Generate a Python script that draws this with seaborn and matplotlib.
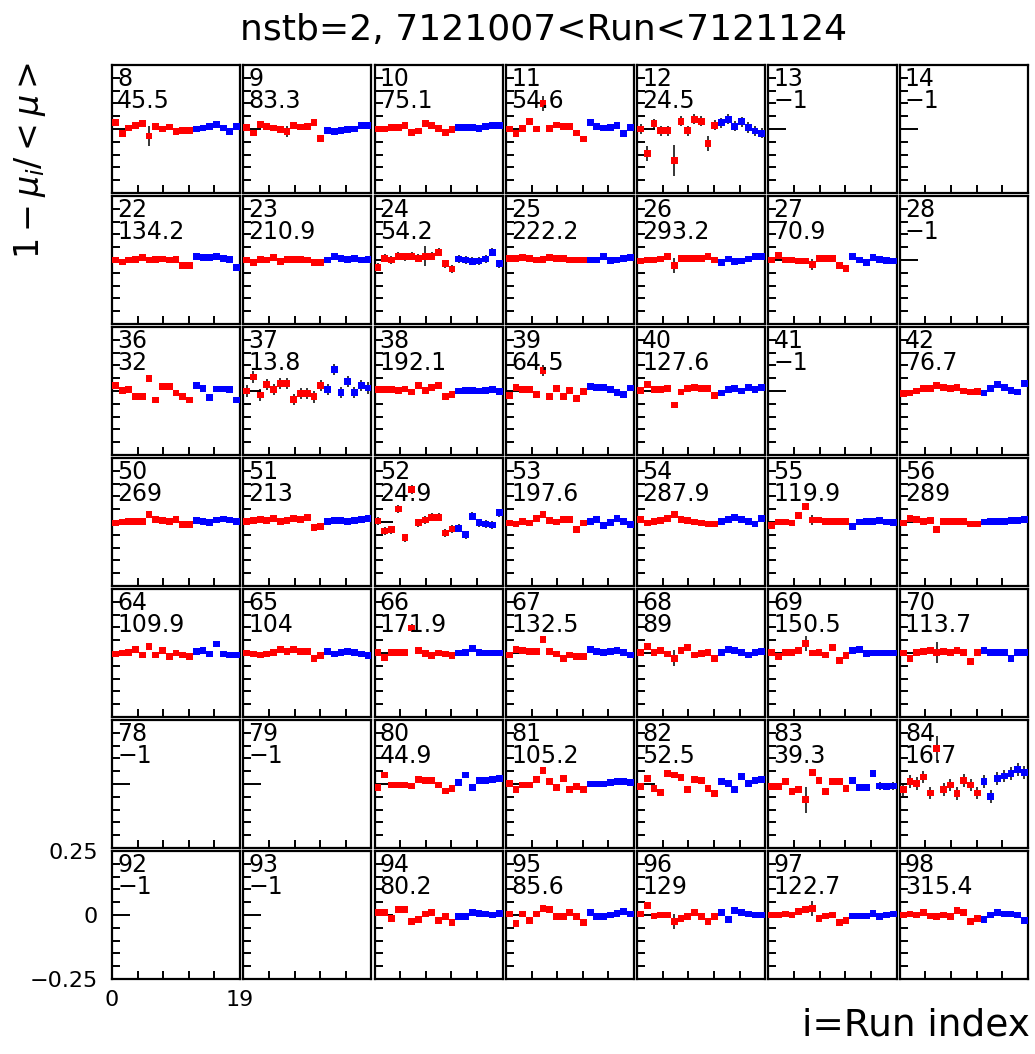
import numpy as np
import pandas as pd
import matplotlib
matplotlib.use("Agg")
import matplotlib.pyplot as plt
import seaborn as sns
from matplotlib.ticker import MultipleLocator

sns.set_style("white")
plt.rcParams['font.family'] = ['DejaVu Sans']
plt.rcParams['text.color'] = 'black'
plt.rcParams['xtick.color'] = 'black'
plt.rcParams['ytick.color'] = 'black'

# channel numbers, 7 per row
channels = [8, 9, 10, 11, 12, 13, 14,
            22, 23, 24, 25, 26, 27, 28,
            36, 37, 38, 39, 40, 41, 42,
            50, 51, 52, 53, 54, 55, 56,
            64, 65, 66, 67, 68, 69, 70,
            78, 79, 80, 81, 82, 83, 84,
            92, 93, 94, 95, 96, 97, 98]
panel_text = ["45.5", "83.3", "75.1", "54.6", "24.5", "-1", "-1",
              "134.2", "210.9", "54.2", "222.2", "293.2", "70.9", "-1",
              "32", "13.8", "192.1", "64.5", "127.6", "-1", "76.7",
              "269", "213", "24.9", "197.6", "287.9", "119.9", "289",
              "109.9", "104", "171.9", "132.5", "89", "150.5", "113.7",
              "-1", "-1", "44.9", "105.2", "52.5", "39.3", "16.7",
              "-1", "-1", "80.2", "85.6", "129", "122.7", "315.4"]

# 1 - mu_i/<mu> per run (first 12 runs red, last 7 blue)
v8 = [0.024, -0.019, 0.004, 0.015, 0.022, -0.027, 0.011, 0.0, 0.008, -0.010, -0.007, -0.005, 0.0, 0.004, 0.011, 0.018, 0.004, -0.009, 0.011]
v9 = [0.007, -0.016, 0.018, 0.011, 0.004, -0.003, -0.010, 0.014, 0.008, 0.011, 0.024, -0.036, -0.005, -0.010, -0.007, -0.003, 0.0, 0.014, 0.014]
v10 = [0.0, 0.0, 0.005, 0.005, 0.013, -0.014, -0.008, 0.022, 0.013, 0.003, -0.013, -0.001, 0.006, 0.006, 0.006, 0.002, 0.009, 0.013, 0.013]
v11 = [0.0, -0.019, 0.001, 0.030, 0.0, 0.100, 0.003, 0.016, 0.011, 0.011, -0.016, -0.039, 0.024, 0.011, 0.004, 0.007, 0.014, -0.019, 0.007]
v12 = [0.0, -0.095, 0.020, -0.007, -0.007, -0.124, 0.030, -0.007, 0.038, 0.030, -0.057, 0.015, 0.024, 0.038, 0.011, 0.028, 0.006, -0.008, -0.017]
v22 = [0.0, -0.008, 0.0, 0.002, 0.010, 0.0, 0.003, 0.004, 0.0, 0.003, -0.020, -0.020, 0.015, 0.010, 0.010, 0.015, 0.006, 0.002, -0.030]
v23 = [0.0, -0.010, 0.003, 0.0, 0.010, -0.005, 0.003, 0.003, 0.003, 0.0, -0.010, -0.010, 0.0, 0.015, 0.006, 0.003, 0.006, 0.0, 0.003]
v24 = [-0.028, 0.007, 0.0, 0.015, 0.013, 0.015, 0.007, 0.015, 0.015, 0.030, -0.015, -0.035, 0.004, 0.0, -0.005, -0.004, 0.004, 0.030, -0.015]
v25 = [0.005, 0.005, 0.010, 0.005, 0.0, 0.003, 0.010, 0.005, 0.005, 0.0, 0.0, 0.0, 0.0, 0.0, 0.015, -0.003, 0.0, 0.006, 0.010]
v26 = [-0.004, 0.0, 0.0, 0.004, 0.015, -0.022, 0.007, 0.007, 0.007, 0.007, 0.015, 0.0, -0.010, 0.004, -0.006, -0.004, 0.004, 0.013, 0.015]
v27 = [0.0, 0.018, 0.0, 0.0, -0.004, -0.004, -0.018, 0.006, 0.006, 0.006, -0.020, -0.032, 0.015, 0.0, -0.010, 0.010, 0.003, -0.002, -0.004]
v36 = [0.022, 0.003, 0.005, -0.020, -0.020, 0.050, -0.035, 0.018, 0.018, -0.008, -0.023, -0.035, 0.022, 0.010, -0.026, 0.008, 0.008, 0.006, -0.035]
v37 = [0.0, 0.055, -0.016, 0.024, 0.007, 0.030, 0.030, -0.034, -0.010, -0.010, -0.023, 0.021, 0.007, 0.085, -0.007, 0.038, -0.007, 0.021, 0.012]
v38 = [0.005, 0.005, 0.005, 0.002, 0.008, -0.004, 0.020, 0.002, 0.015, 0.020, -0.023, -0.013, 0.0, 0.002, 0.002, 0.0, 0.002, 0.006, -0.001]
v39 = [-0.017, 0.015, 0.007, 0.007, -0.014, 0.080, -0.020, 0.009, -0.023, 0.003, -0.030, -0.001, 0.018, 0.013, 0.013, 0.006, -0.006, -0.014, 0.012]
v40 = [0.003, 0.025, 0.006, 0.006, 0.009, -0.055, -0.004, 0.009, 0.013, 0.009, 0.009, -0.017, -0.008, 0.005, 0.009, 0.0, 0.013, 0.006, 0.013]
v42 = [-0.010, -0.008, 0.0, 0.009, 0.009, 0.022, 0.013, 0.009, 0.013, 0.0, -0.004, -0.001, -0.008, 0.009, 0.026, 0.013, 0.003, -0.004, 0.029]
v50 = [-0.004, 0.0, 0.002, 0.002, 0.002, 0.030, 0.010, 0.006, 0.002, 0.010, -0.010, -0.010, 0.006, 0.002, -0.001, 0.008, 0.012, 0.008, 0.002]
v51 = [0.002, 0.005, 0.009, 0.005, 0.013, 0.002, 0.006, 0.013, 0.009, 0.018, -0.023, -0.017, 0.002, 0.005, 0.005, 0.002, 0.005, 0.009, 0.015]
v52 = [0.004, -0.035, -0.030, 0.051, -0.062, 0.127, -0.003, 0.008, 0.019, 0.019, -0.043, -0.027, -0.025, -0.050, 0.022, -0.003, -0.008, -0.012, 0.036]
v53 = [-0.004, -0.008, 0.002, -0.004, 0.013, 0.030, 0.006, 0.0, 0.009, 0.009, -0.030, -0.004, 0.002, 0.009, -0.013, -0.001, 0.013, 0.002, -0.010]
v54 = [0.009, -0.004, 0.002, 0.006, 0.013, 0.030, 0.009, 0.005, 0.0, -0.004, -0.008, -0.008, 0.002, 0.009, 0.018, 0.009, 0.002, -0.008, 0.013]
v55 = [-0.013, 0.0, 0.0, -0.004, 0.025, 0.060, 0.008, 0.008, 0.002, 0.002, 0.002, 0.002, -0.017, 0.0, 0.002, 0.003, 0.006, 0.0, -0.002]
v56 = [-0.004, 0.013, 0.009, 0.002, 0.006, -0.030, 0.002, 0.002, 0.002, 0.002, -0.008, -0.008, 0.0, 0.002, 0.002, 0.002, 0.005, 0.005, 0.009]
v64 = [-0.004, 0.0, 0.002, 0.013, -0.008, 0.025, -0.008, 0.009, -0.013, 0.0, -0.008, -0.013, 0.006, 0.009, -0.004, 0.035, -0.004, -0.008, -0.008]
v65 = [0.0, -0.004, -0.008, -0.004, 0.002, 0.013, 0.006, 0.015, 0.006, 0.006, -0.023, -0.010, 0.006, -0.004, 0.002, 0.006, 0.002, -0.004, -0.010]
v66 = [0.002, -0.017, 0.002, 0.002, 0.002, 0.098, 0.009, -0.001, -0.010, 0.0, -0.004, -0.010, 0.0, 0.002, 0.018, 0.002, 0.0, 0.0, 0.0]
v67 = [-0.008, 0.013, 0.009, 0.006, 0.006, 0.054, 0.006, -0.004, -0.020, -0.008, -0.013, -0.013, 0.015, 0.006, 0.002, 0.006, 0.009, 0.002, -0.008]
v68 = [0.002, 0.025, 0.002, 0.009, -0.004, -0.020, 0.009, 0.022, -0.008, -0.001, 0.002, -0.020, 0.002, 0.013, 0.009, 0.002, -0.008, 0.002, 0.006]
v69 = [0.002, -0.013, 0.002, 0.002, 0.009, 0.038, 0.0, 0.002, -0.008, 0.022, -0.030, -0.010, 0.009, 0.013, -0.001, 0.0, 0.0, 0.0, 0.0]
v70 = [0.0, -0.020, 0.002, 0.006, 0.009, 0.002, 0.006, 0.002, 0.009, 0.002, -0.033, 0.002, 0.009, 0.002, 0.002, 0.002, -0.020, 0.002, 0.002]
v80 = [-0.013, 0.035, -0.004, -0.004, -0.004, -0.008, 0.018, 0.013, 0.013, -0.004, -0.027, -0.017, 0.005, 0.035, -0.013, 0.013, 0.013, 0.018, 0.022]
v81 = [0.003, -0.020, -0.004, -0.004, 0.018, 0.054, 0.009, -0.013, 0.022, -0.020, -0.010, -0.020, 0.0, 0.0, 0.0, 0.005, 0.009, 0.009, 0.007]
v82 = [-0.010, 0.022, -0.017, -0.033, 0.040, 0.035, 0.026, -0.023, 0.018, 0.015, -0.017, -0.036, 0.009, 0.003, -0.023, 0.030, 0.003, 0.013, 0.018]
v83 = [-0.010, -0.010, 0.009, -0.030, -0.020, -0.062, 0.044, 0.013, -0.030, 0.009, 0.009, -0.017, 0.013, -0.013, -0.013, 0.041, -0.008, -0.010, -0.008]
v84 = [-0.021, 0.010, 0.003, 0.027, -0.035, 0.138, -0.021, -0.004, -0.038, 0.014, -0.004, -0.035, 0.010, -0.050, 0.023, 0.031, 0.040, 0.057, 0.046]
v94 = [0.009, 0.009, -0.013, 0.020, 0.020, -0.026, -0.017, 0.004, 0.009, -0.020, -0.006, -0.030, -0.006, -0.006, 0.009, 0.006, 0.004, 0.0, 0.006]
v95 = [0.004, -0.032, 0.004, -0.020, 0.004, 0.026, 0.020, -0.006, -0.006, 0.009, -0.006, -0.030, 0.009, -0.006, -0.006, 0.0, 0.006, 0.013, 0.004]
v96 = [0.004, 0.038, -0.004, 0.0, 0.0, -0.026, -0.013, -0.006, 0.009, -0.006, -0.026, -0.006, 0.009, -0.017, 0.017, 0.009, 0.004, 0.0, 0.0]
v97 = [0.0, 0.0, 0.004, 0.0, 0.013, 0.020, 0.026, -0.013, -0.004, 0.0, -0.030, -0.020, -0.004, -0.004, -0.004, 0.006, -0.006, 0.0, 0.004]
v98 = [0.0, 0.004, 0.0, 0.009, -0.004, -0.006, 0.0, -0.006, 0.017, 0.009, -0.026, -0.013, -0.017, 0.0, 0.009, 0.004, 0.004, 0.0, -0.022]

series = {8: v8, 9: v9, 10: v10, 11: v11, 12: v12,
          22: v22, 23: v23, 24: v24, 25: v25, 26: v26, 27: v27,
          36: v36, 37: v37, 38: v38, 39: v39, 40: v40, 42: v42,
          50: v50, 51: v51, 52: v52, 53: v53, 54: v54, 55: v55, 56: v56,
          64: v64, 65: v65, 66: v66, 67: v67, 68: v68, 69: v69, 70: v70,
          80: v80, 81: v81, 82: v82, 83: v83, 84: v84,
          94: v94, 95: v95, 96: v96, 97: v97, 98: v98}

# typical error per channel, plus a few larger single-point errors
panel_err = {8: 0.01, 9: 0.008, 10: 0.007, 11: 0.009, 12: 0.02, 22: 0.006, 23: 0.006,
             24: 0.015, 25: 0.005, 26: 0.005, 27: 0.01, 36: 0.012, 37: 0.022, 38: 0.006,
             39: 0.01, 40: 0.007, 42: 0.01, 50: 0.005, 51: 0.006, 52: 0.016, 53: 0.006,
             54: 0.005, 55: 0.007, 56: 0.005, 64: 0.008, 65: 0.008, 66: 0.007, 67: 0.007,
             68: 0.01, 69: 0.008, 70: 0.009, 80: 0.01, 81: 0.008, 82: 0.012, 83: 0.014,
             84: 0.025, 94: 0.01, 95: 0.009, 96: 0.008, 97: 0.008, 98: 0.007}
big_err = {(8, 5): 0.04, (9, 6): 0.02, (11, 5): 0.03, (12, 1): 0.03, (12, 5): 0.06,
           (12, 10): 0.03, (24, 7): 0.04, (26, 5): 0.03, (27, 6): 0.02, (39, 5): 0.02,
           (55, 6): 0.02, (66, 5): 0.015, (68, 5): 0.03, (69, 5): 0.03, (70, 5): 0.04,
           (83, 5): 0.05, (84, 5): 0.05, (96, 5): 0.03, (97, 6): 0.03}

n_red = 12

rows = []
for ch, vals in series.items():
    for i, v in enumerate(vals):
        rows.append({'ch': ch, 'run': i + 0.5, 'val': v,
                     'err': big_err.get((ch, i), panel_err[ch]),
                     'part': 'early' if i < n_red else 'late'})
df = pd.DataFrame(rows)

W, H = 1035, 1054
pw, ph = 128, 128
fig = plt.figure(figsize=(W / 100, H / 100), dpi=100)

for k, ch in enumerate(channels):
    r, c = divmod(k, 7)
    left = 112 + 131.3 * c
    top = 65 + 131.0 * r
    ax = fig.add_axes([left / W, 1 - (top + ph) / H, pw / W, ph / H])

    sub = df[df.ch == ch]
    if len(sub):
        ax.errorbar(sub.run, sub.val, yerr=sub.err, fmt='none', ecolor='black',
                    elinewidth=1.1, capsize=0, zorder=2)
        sns.scatterplot(data=sub, x='run', y='val', hue='part',
                        palette={'early': '#ff0000', 'late': '#0000ff'},
                        marker='s', s=24, linewidth=0, legend=False, ax=ax, zorder=3)
    ax.set_xlabel('')
    ax.set_ylabel('')
    ax.set_xlim(0, 19)
    ax.set_ylim(-0.25, 0.25)
    ax.set_xticks(np.linspace(0, 19, 6))
    ax.set_yticks([-0.25, 0, 0.25])
    ax.yaxis.set_minor_locator(MultipleLocator(0.05))
    ax.tick_params(which='both', direction='in', left=True, bottom=True,
                   top=False, right=False, color='black')
    ax.tick_params(axis='y', which='major', length=13, width=1.4)
    ax.tick_params(axis='y', which='minor', length=6, width=1.4)
    ax.tick_params(axis='x', which='major', length=5.5, width=1.4)
    for sp in ax.spines.values():
        sp.set_linewidth(1.6)
        sp.set_color('black')

    if k == 42:
        ax.set_yticklabels(['\u22120.25', '0', '0.25'], fontsize=16)
        ax.set_xticklabels(['0', '', '', '', '', '19'], fontsize=16)
        ax.tick_params(axis='y', pad=10)
        ax.tick_params(axis='x', pad=8)
    else:
        ax.set_xticklabels([])
        ax.set_yticklabels([])

    ax.text(0.04, 0.985, str(ch), transform=ax.transAxes, ha='left', va='top', fontsize=17)
    ax.text(0.04, 0.81, panel_text[k].replace('-', '\u2212'), transform=ax.transAxes,
            ha='left', va='top', fontsize=17)

fig.text(544 / W, 1 - 30 / H, "nstb=2, 7121007<Run<7121124", ha='center', va='center', fontsize=26)
fig.text(1030 / W, 1 - 1025 / H, "i=Run index", ha='right', va='center', fontsize=27)
fig.text(30 / W, 1 - 62 / H, r"$1-\mu_{i}/<\mu>$", rotation=90, ha='center', va='top', fontsize=24)

fig.savefig("out.png", dpi=100)
